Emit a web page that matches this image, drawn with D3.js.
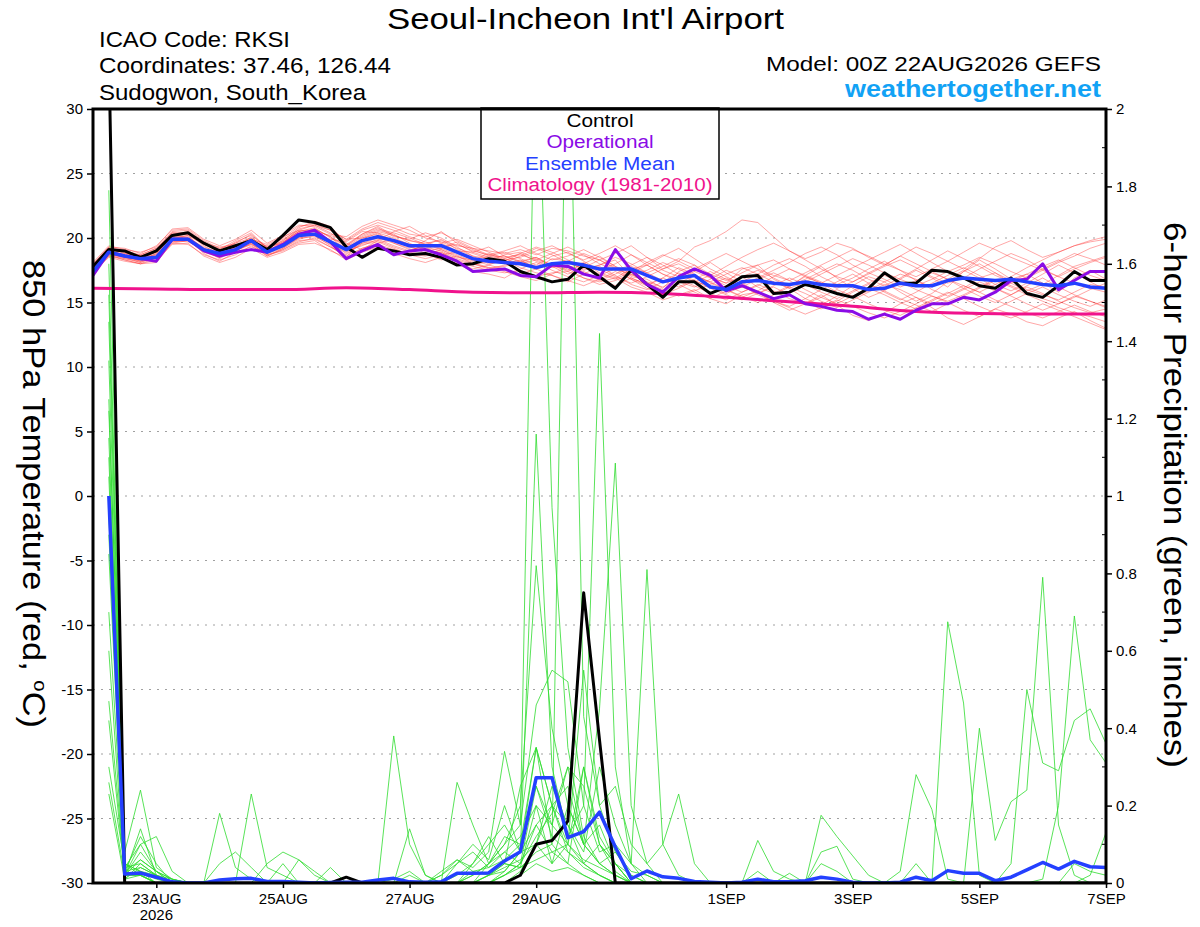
<!DOCTYPE html>
<html>
<head>
<meta charset="utf-8">
<title>Seoul-Incheon Int'l Airport - GEFS plume</title>
<script src="https://d3js.org/d3.v7.min.js"></script>
<style>
  body { margin: 0; background: #fff; }
  svg { display: block; font-family: "Liberation Sans", Arial, Helvetica, sans-serif; }
</style>
</head>
<body>
<svg id="chart" width="1200" height="927"></svg>
<script>
  // ---- data (read off the GEFS plume) ----
  // 850 hPa temperature every 6 h from 00Z 22AUG2026 (65 steps)
  const controlTemp = [17.8,19.1,19.0,18.5,19.0,20.2,20.4,19.6,19.0,19.4,19.8,19.1,20.2,21.4,21.2,20.8,19.3,18.5,19.2,19.0,18.7,18.8,18.5,17.9,18.0,18.4,18.2,17.4,17.0,16.6,16.8,17.9,17.0,16.1,17.5,16.4,15.4,16.6,16.6,15.7,16.2,17.0,17.1,15.7,15.8,16.4,16.1,15.7,15.4,16.1,17.3,16.5,16.5,17.5,17.4,16.9,16.3,16.1,16.9,15.7,15.4,16.3,17.4,16.7,16.7];
  const operTemp = [17.1,18.9,18.6,18.4,18.2,19.9,19.9,19.0,18.6,18.9,19.1,18.9,19.5,20.3,20.6,19.7,18.4,19.0,19.5,18.7,19.0,19.1,18.7,18.2,17.4,17.5,17.6,17.1,17.0,17.9,17.8,17.2,16.9,19.1,17.5,16.4,15.8,17.0,17.6,17.1,15.9,16.3,15.8,15.3,15.6,14.9,14.7,14.4,14.3,13.7,14.1,13.7,14.4,14.9,14.9,15.4,15.2,15.8,16.7,16.8,18.0,16.0,16.7,17.4,17.4];
  const meanTemp = [17.4,18.9,18.6,18.4,18.5,19.9,19.9,19.1,18.8,19.1,19.8,18.9,19.4,20.2,20.3,19.7,19.1,19.8,20.1,19.8,19.4,19.4,19.4,18.9,18.4,18.2,18.1,18.0,17.7,18.0,18.1,17.9,17.6,17.6,17.6,17.1,16.6,16.9,17.1,16.2,16.0,16.6,16.7,16.5,16.4,16.6,16.4,16.3,16.3,16.0,16.1,16.5,16.3,16.3,16.7,16.9,16.8,16.7,16.8,16.6,16.4,16.3,16.5,16.2,16.1];
  // climatology, one value per day (00Z)
  const climTemp = [16.1,16.05,16.0,16.0,16.15,16.0,15.8,15.75,15.8,15.7,15.4,15.05,14.7,14.3,14.15,14.1,14.1];

  const tempMembers = [
    [17.6,19.0,18.7,18.2,18.8,20.0,20.1,19.2,18.6,19.3, 20.1,19.0,19.6,20.5,20.8,20.0,19.4,20.3,20.9,20.2, 19.8,19.5,19.9,19.1,18.6,18.4,18.0,18.3,17.6,18.4, 18.2,17.5,17.9,18.3,17.0,16.8,16.1,17.4,17.9,16.9, 16.5,17.6,17.9,16.8,16.2,17.1,17.8,16.9,16.1,15.4, 15.9,16.8,17.5,16.9,16.2,17.4,18.3,17.6,16.8,17.2, 16.5,15.8,16.9,17.5,16.8],
    [17.9,19.3,19.2,18.8,19.4,20.6,20.7,19.8,19.2,19.6, 20.0,19.3,20.0,20.9,21.1,20.6,19.9,20.7,21.2,20.8, 20.3,20.1,20.4,19.8,19.2,19.0,18.8,19.1,18.7,19.2, 19.0,18.6,18.3,18.8,19.4,18.5,17.6,18.2,19.3,19.8, 20.5,21.4,21.2,20.1,19.0,18.4,18.9,19.6,19.2,18.5, 17.9,18.6,19.3,18.8,18.2,17.6,18.4,19.3,19.8,19.1, 18.5,18.9,19.4,19.7,19.9],
    [17.2,18.6,18.3,18.0,18.1,19.6,19.5,18.7,18.3,18.7, 19.4,18.6,19.1,19.8,19.9,19.3,18.6,19.2,19.5,19.1, 18.8,18.6,18.9,18.2,17.8,17.5,17.3,17.5,17.0,17.3, 17.4,16.9,16.6,16.9,16.2,15.8,15.2,15.6,16.0,15.3, 14.9,15.6,15.8,15.0,14.4,14.9,15.6,14.8,14.0,13.6, 14.2,14.9,15.4,14.6,13.8,13.3,13.9,14.5,14.1,13.5, 13.2,13.8,14.3,13.6,13.0],
    [18.0,19.2,18.9,18.6,19.1,20.3,20.5,19.5,19.1,19.8, 20.4,19.2,19.8,20.8,21.3,20.9,19.6,19.1,19.8,20.5, 20.9,20.2,19.6,19.0,18.9,19.3,18.6,18.1,18.5,17.9, 17.4,18.0,18.6,17.8,16.9,16.4,16.9,17.7,17.2,16.5, 16.0,15.4,15.9,16.6,16.1,15.3,14.8,15.5,16.3,17.0, 16.6,15.8,15.1,15.7,16.6,17.4,18.0,17.3,16.5,15.9, 16.4,17.1,17.8,18.2,18.6],
    [17.5,18.7,18.5,18.3,18.4,19.8,20.0,19.0,18.9,19.0, 19.6,18.8,19.2,20.0,20.1,19.5,18.9,19.6,20.0,19.6, 19.2,19.8,20.5,19.6,18.9,18.5,18.6,18.2,17.8,18.0, 17.7,18.1,17.3,16.9,17.6,17.9,17.2,16.6,16.2,16.8, 17.5,17.0,16.2,15.7,16.3,17.0,16.5,15.8,15.4,15.9, 16.6,17.2,16.8,16.0,15.5,16.1,16.9,17.3,16.7,16.0, 15.6,15.2,15.8,16.4,16.2],
    [17.7,19.1,18.9,18.4,18.9,20.1,20.3,19.4,18.7,19.2, 19.9,19.1,19.5,20.4,20.6,19.8,19.3,20.1,20.6,20.3, 19.6,19.0,19.2,18.7,18.2,18.6,18.9,18.4,17.9,18.6, 18.9,18.2,17.5,18.0,18.7,17.9,17.2,16.8,17.4,18.1, 17.3,16.6,17.2,17.9,18.4,17.8,17.0,16.4,16.9,17.6, 18.2,17.5,16.7,16.2,16.8,17.5,16.9,16.1,15.6,16.3, 16.9,16.2,15.6,15.1,14.7],
    [17.3,18.8,18.4,18.1,18.6,19.7,19.8,18.9,18.5,19.4, 20.0,18.7,19.0,19.6,19.8,19.0,18.5,19.9,20.4,19.6, 19.1,19.3,19.0,18.4,18.0,17.6,17.9,18.2,18.5,17.8, 17.2,17.7,18.3,17.6,16.8,16.3,16.9,16.4,15.8,15.3, 15.9,16.5,15.8,15.1,14.7,15.3,16.0,16.6,17.2,16.5, 15.8,15.2,15.8,16.5,17.1,17.7,17.1,16.4,15.9,16.5, 17.2,17.9,17.3,16.6,16.0],
    [17.8,18.9,18.8,18.7,19.2,20.4,20.4,19.6,19.3,19.5, 19.7,19.4,19.9,20.6,20.5,20.2,19.8,20.6,21.0,20.6, 20.1,19.7,19.3,19.5,19.0,18.7,19.0,19.4,18.8,18.3, 18.6,19.1,18.5,17.8,17.3,17.9,18.6,19.2,18.4,17.6, 17.0,16.4,16.9,17.5,18.1,18.8,19.3,18.7,17.9,17.3, 16.8,16.2,16.7,17.3,16.8,16.1,15.5,15.0,15.6,16.2, 15.7,15.1,14.6,14.2,14.5],
    [17.4,18.5,18.2,18.0,18.3,19.5,19.6,18.6,18.1,18.5, 19.2,18.5,18.9,19.5,19.6,19.1,18.3,18.9,19.3,18.8, 18.4,18.1,18.5,18.0,17.4,17.2,16.9,17.6,18.1,17.5, 17.0,16.6,17.1,17.6,17.2,16.5,16.0,15.5,15.9,16.4, 16.9,16.3,15.6,15.1,14.6,14.1,14.6,15.2,14.7,14.2, 13.8,14.3,14.9,15.5,15.0,14.4,13.9,14.5,15.1,15.7, 16.2,15.6,15.1,14.7,15.2],
    [18.1,19.4,19.1,18.9,19.3,20.7,20.8,19.9,19.4,19.9, 20.6,19.6,20.2,21.0,20.9,20.3,20.1,20.9,21.4,21.0, 20.6,20.0,19.7,19.2,18.8,18.4,18.1,18.6,19.2,18.7, 18.1,17.6,17.9,18.5,18.0,17.3,17.8,18.4,17.9,17.2, 16.7,17.3,17.9,18.3,17.6,17.0,16.5,17.1,17.7,18.3, 18.9,19.5,18.8,18.1,17.4,17.9,18.5,18.0,17.4,16.9, 17.5,18.1,18.6,19.2,19.6],
    [17.6,18.8,18.6,18.5,18.7,19.9,20.2,19.1,18.4,19.1, 19.5,19.0,19.7,20.3,20.7,20.1,19.0,19.4,19.9,19.4, 19.0,19.5,19.1,18.5,18.3,18.8,18.3,17.7,17.3,17.1, 16.6,17.2,17.8,17.1,16.4,16.0,16.6,17.3,16.7,16.1, 15.6,15.2,15.7,16.2,15.6,15.0,14.5,15.1,15.8,16.4, 15.9,15.3,14.8,14.3,14.9,15.5,16.1,16.7,16.2,15.6, 15.1,14.6,14.2,13.9,13.5],
    [17.9,19.0,19.1,18.6,19.0,20.2,20.0,19.3,18.9,19.7, 20.2,19.3,19.6,20.7,21.0,20.4,19.5,20.3,20.8,20.1, 19.9,20.4,20.0,19.3,18.6,18.0,18.2,18.8,19.3,18.9, 18.3,17.8,17.2,16.8,17.4,18.1,18.7,18.2,17.6,17.0, 16.5,17.0,17.5,16.9,16.3,16.8,17.4,18.0,17.5,16.8, 16.3,16.9,17.6,18.3,19.0,18.4,17.8,17.1,16.6,17.2, 17.8,18.3,17.7,17.1,16.7],
    [17.5,18.6,18.4,18.2,18.5,19.7,19.9,18.8,18.2,18.9, 19.3,18.9,19.3,20.1,20.4,19.6,18.8,19.5,19.7,19.2, 18.7,18.4,18.7,18.9,18.3,17.9,17.6,17.2,17.6,18.0, 17.6,16.9,16.4,16.7,17.2,16.6,16.2,16.8,16.3,15.7, 15.2,15.8,16.4,15.9,15.3,14.9,15.4,16.0,15.5,14.9, 14.4,14.0,14.6,15.2,15.8,15.3,14.7,14.2,13.8,14.3, 14.9,14.4,13.9,13.4,12.9],
    [17.7,19.2,18.8,18.4,19.1,20.5,20.6,19.7,18.8,19.3, 19.8,19.2,19.8,20.5,20.2,19.9,19.7,20.5,20.4,20.0, 19.5,19.1,19.6,19.9,19.4,18.9,18.4,18.0,18.3,18.8, 19.3,18.7,18.0,17.5,17.9,18.5,17.9,17.2,16.6,17.1, 17.8,18.5,19.1,19.6,19.0,18.3,17.6,17.0,16.6,17.2, 17.8,18.3,17.7,17.0,16.5,16.9,17.6,18.2,18.8,18.3, 17.6,17.0,16.5,16.1,15.8],
    [17.4,18.7,18.6,18.2,18.7,19.8,19.7,19.1,18.7,19.0, 19.6,18.6,19.2,19.9,20.2,19.4,18.4,19.2,19.6,19.9, 19.4,18.8,18.3,18.6,18.1,17.7,17.4,17.0,16.7,17.2, 17.8,17.4,16.8,16.3,16.9,16.4,15.9,16.5,17.1,16.6, 16.0,15.5,15.0,15.6,16.2,15.7,15.1,14.6,15.2,15.8, 16.4,16.0,15.4,14.9,15.4,16.0,16.6,16.1,15.5,14.9, 14.4,14.9,15.5,15.1,14.6],
    [17.8,19.0,18.7,18.6,18.9,20.0,20.2,19.5,19.2,19.4, 19.9,19.5,20.1,20.6,21.0,20.6,19.9,20.0,20.5,20.2, 19.8,19.6,19.8,19.4,19.2,18.7,18.5,18.7,18.3,17.8, 18.2,18.8,18.3,17.7,17.1,17.5,18.1,17.6,17.0,16.6, 17.2,17.7,17.2,16.6,16.1,16.6,17.2,17.8,18.4,17.9, 17.3,16.8,16.3,16.8,17.4,16.9,16.4,15.9,16.5,17.0, 17.6,18.2,18.8,18.4,17.9],
    [17.6,18.9,18.5,18.3,18.8,19.9,20.0,19.2,18.5,19.1, 19.7,18.9,19.4,20.2,20.5,19.7,19.2,20.0,20.3,19.7, 19.3,19.0,18.9,18.3,17.9,18.2,18.7,18.9,18.4,17.9, 17.5,18.0,17.6,17.0,16.5,17.0,17.6,18.0,17.4,16.9, 16.3,15.8,16.3,17.0,17.6,17.1,16.6,16.1,16.6,17.3, 17.9,18.6,18.0,17.4,16.8,16.3,15.8,16.4,17.0,17.7, 18.3,18.9,19.4,19.8,20.1],
    [17.3,18.7,18.3,18.0,18.5,19.6,19.8,19.0,18.6,19.0, 19.5,18.7,19.1,19.7,20.0,19.3,18.7,19.6,19.8,19.3, 18.9,18.7,19.1,18.6,18.0,17.7,17.8,18.1,17.6,17.1, 16.7,16.3,16.8,17.4,16.8,16.1,15.6,16.1,16.7,16.2, 15.7,16.2,16.8,17.3,16.7,16.0,15.4,14.9,15.5,16.1, 15.6,15.0,14.5,15.1,15.7,16.3,15.8,15.2,14.7,14.2, 13.8,14.3,14.8,14.3,13.9],
    [18.0,19.3,19.0,18.7,19.2,20.4,20.3,19.7,19.0,19.6, 20.3,19.2,19.7,20.5,20.7,20.1,19.4,20.2,20.7,20.4, 20.0,19.5,19.2,19.7,19.1,18.6,18.3,18.5,19.0,19.4, 18.8,18.3,18.8,19.4,18.7,18.1,17.5,17.0,17.6,18.2, 18.8,18.2,17.6,17.1,16.7,17.3,17.9,18.5,19.1,18.6, 18.0,17.5,17.0,17.6,18.2,18.9,19.6,19.1,18.5,18.0, 17.5,17.0,17.6,18.1,18.5],
    [17.5,18.8,18.5,18.1,18.6,19.8,19.9,19.0,18.5,19.2, 19.8,18.9,19.3,20.0,20.3,19.6,19.0,19.7,20.2,19.9, 19.5,19.2,18.8,18.1,17.6,17.9,18.4,18.8,18.2,17.7, 17.9,17.3,16.7,17.2,17.8,17.3,16.7,16.2,16.8,17.4, 16.8,16.2,15.7,16.3,16.9,16.4,15.8,15.3,15.9,16.5, 17.1,16.6,16.0,15.5,15.1,15.6,16.2,16.8,16.3,15.8, 15.3,14.9,15.4,16.0,16.5]
  ];

  // 6-hour precipitation (inches), valid 06Z 22AUG .. 00Z 7SEP (64 steps)
  const controlPrecip = [2.15,0,0,0,0,0,0,0, 0,0,0,0,0,0,0,0.015, 0,0,0,0,0,0,0,0, 0,0,0.02,0.1,0.11,0.16,0.75,0.37, 0,0,0,0,0,0,0,0, 0,0,0,0,0,0,0,0, 0,0,0,0,0,0,0,0, 0,0,0,0,0,0,0,0];
  const meanPrecip = [1.0,0.023,0.026,0.015,0.003,0,0,0.008, 0.011,0.012,0.004,0.004,0.002,0,0.001,0.002, 0.002,0.008,0.012,0.003,0.002,0.003,0.025,0.025, 0.026,0.057,0.081,0.272,0.272,0.117,0.133,0.183, 0.093,0.011,0.031,0.016,0.012,0.004,0.002,0, 0.002,0.01,0.003,0.003,0.006,0.015,0.01,0.002, 0,0,0.002,0.015,0.006,0.032,0.025,0.025, 0.006,0.015,0.034,0.053,0.036,0.056,0.042,0.04];
  const precipMembers = [
    [1.79,0.05,0.02,0,0,0,0,0, 0,0,0,0,0,0,0,0, 0,0,0.01,0.03,0,0,0,0.02, 0.05,0.1,0.15,2.3,0.97,0.35,0.12,0.05, 0.02,0,0,0,0,0,0,0, 0,0,0,0,0,0,0,0, 0,0,0,0,0,0,0,0, 0,0,0,0,0,0,0,0],
    [1.52,0.03,0.12,0.05,0,0,0,0, 0,0,0,0,0,0,0,0, 0,0,0,0,0,0.02,0.05,0.1, 0.06,0.2,0.08,0.35,0.1,2.4,0.43,0.2, 0.08,0.02,0,0,0,0,0,0, 0,0,0,0,0,0,0,0, 0,0,0,0,0,0,0,0, 0,0,0,0,0,0,0,0],
    [1.22,0.08,0.24,0.04,0.01,0,0,0.18, 0.04,0.01,0,0,0,0,0,0, 0,0,0.38,0.1,0.02,0,0,0, 0,0.03,0.08,1.16,0.3,0.12,0.2,1.42, 0.3,0.05,0,0,0,0,0,0, 0,0,0,0,0,0,0,0, 0,0,0,0,0,0,0,0, 0,0,0,0,0,0,0,0],
    [1.35,0.04,0.1,0.12,0.03,0,0,0, 0,0.23,0.04,0.02,0,0,0,0, 0,0,0,0,0,0,0.26,0.15, 0.05,0.1,0.2,0.82,0.4,0.2,0.1,0.45, 1.085,0.2,0.05,0,0,0,0,0, 0,0,0,0,0,0,0,0, 0,0,0,0,0,0,0,0, 0,0,0,0,0,0,0,0],
    [1.1,0.02,0.14,0.02,0,0,0,0, 0,0,0.05,0.08,0.06,0.03,0,0, 0,0,0,0,0,0.02,0.06,0.04, 0.08,0.34,0.15,0.46,0.55,0.52,0.2,0.08, 0.1,0.05,0.81,0.1,0.02,0,0,0, 0,0,0,0,0,0,0,0, 0,0,0,0,0,0,0,0, 0,0,0,0,0,0,0,0],
    [0.95,0.01,0.05,0.02,0,0,0,0.05, 0.08,0.04,0,0,0,0,0.04,0, 0,0,0,0.14,0.02,0,0,0.05, 0.12,0.05,0.25,0.35,0.2,0.1,0.55,0.2, 0.25,0.1,0.05,0.1,0.23,0.05,0,0, 0,0,0,0,0,0,0,0, 0,0,0,0,0,0,0,0, 0,0,0,0,0,0,0,0],
    [1.45,0.03,0.06,0.03,0.01,0,0,0, 0,0,0,0,0.06,0.02,0,0, 0,0,0,0,0,0,0,0.03, 0.04,0.08,0.05,0.25,0.15,0.3,0.1,0.05, 0.02,0,0,0,0,0,0,0, 0,0.11,0.03,0.01,0,0.175,0.12,0.07, 0.02,0,0,0,0,0,0,0, 0,0,0,0,0,0,0,0],
    [0.85,0.02,0.03,0,0,0,0,0, 0,0,0,0,0,0,0,0, 0,0,0,0,0,0,0,0, 0.02,0.05,0.04,0.2,0.15,0.1,0.3,0.12, 0.05,0.02,0,0,0,0,0,0, 0,0,0,0,0,0,0,0, 0,0,0.03,0.28,0.19,0.01,0,0, 0,0,0,0,0,0,0,0],
    [1.6,0.05,0.03,0.01,0,0,0,0, 0,0,0,0,0,0,0,0, 0,0,0,0,0,0,0,0, 0,0.02,0.05,0.15,0.08,0.05,0.02,0, 0,0,0,0,0,0,0,0, 0,0,0,0,0,0,0,0, 0,0,0,0,0,0.675,0.465,0.02, 0,0,0,0,0,0,0,0],
    [0.7,0.02,0.02,0,0,0,0,0, 0,0,0,0,0,0,0,0, 0,0,0,0,0,0,0.02,0.05, 0.1,0.15,0.08,0.1,0.25,0.15,0.08,0.3, 0.15,0.05,0.02,0,0,0,0,0, 0,0,0,0,0,0,0,0, 0,0,0,0,0,0,0,0.4, 0.11,0.21,0.24,0.79,0.15,0.02,0,0],
    [0.6,0.01,0.04,0.02,0,0,0,0, 0,0,0,0.05,0,0,0,0, 0,0,0,0,0,0,0,0, 0,0,0.03,0.1,0.05,0.2,0.1,0.15, 0.05,0,0,0,0,0,0,0, 0,0,0,0,0,0,0,0, 0,0,0,0,0,0,0,0, 0,0.05,0.5,0.31,0.29,0.42,0.45,0.36],
    [1.25,0.02,0.08,0.03,0,0,0,0, 0,0,0,0,0,0,0,0, 0,0,0,0,0,0,0,0.02, 0.05,0.08,0.12,0.2,0.05,0.1,0.05,0.02, 0,0,0,0,0,0,0,0, 0,0,0,0,0,0,0,0, 0,0,0,0,0,0,0,0, 0,0,0,0.01,0.2,0.69,0.37,0.31],
    [0.47,0.03,0.02,0,0,0,0,0, 0,0,0,0,0,0,0,0, 0,0,0,0,0,0,0,0, 0.02,0.04,0.06,0.1,0.2,0.08,0.05,0.02, 0,0,0,0,0,0,0,0, 0,0,0,0,0,0.08,0.095,0.01, 0,0,0,0,0,0,0,0, 0,0,0,0,0,0,0.02,0.13],
    [0.42,0.02,0.1,0.03,0,0,0,0, 0,0,0,0,0,0,0,0, 0,0,0,0.02,0,0,0,0, 0.02,0.03,0.08,0.15,0.2,0.25,0.1,0.05, 0.08,0.03,0.02,0,0,0,0,0, 0,0.03,0,0.025,0,0.05,0.03,0, 0,0,0,0.05,0,0,0,0, 0,0,0,0,0,0.05,0.03,0.02],
    [1.05,0.04,0.05,0.02,0,0,0,0, 0,0,0,0,0,0,0,0, 0,0,0,0,0,0,0.05,0.08, 0.04,0.06,0.1,0.35,0.2,0.15,0.05,0.1, 0.05,0,0,0,0,0,0,0, 0,0,0,0,0,0,0,0, 0,0,0,0,0,0,0,0, 0,0,0,0,0,0,0,0],
    [0.3,0.05,0.03,0.02,0,0,0,0, 0,0,0,0,0,0,0,0, 0,0,0,0,0,0,0,0, 0,0.02,0.04,0.08,0.1,0.05,0.3,0.1, 0.03,0,0,0,0,0,0,0, 0,0,0,0,0,0,0,0, 0,0,0,0,0,0,0,0, 0,0,0,0,0,0,0,0],
    [0.26,0.02,0.02,0,0,0,0,0, 0,0,0,0,0,0,0,0, 0,0,0,0,0,0.03,0.06,0.03, 0.02,0.05,0.04,0.06,0.08,0.1,0.06,0.04, 0.02,0,0,0,0,0,0,0, 0,0,0,0,0,0,0,0, 0,0,0,0,0,0,0,0, 0,0,0,0,0,0,0,0],
    [0.23,0.01,0.02,0,0,0,0,0, 0,0,0,0,0,0,0,0, 0,0,0,0,0,0,0,0, 0,0,0.02,0.05,0.03,0.04,0.02,0, 0,0,0,0,0,0,0,0, 0,0,0,0,0,0,0,0, 0,0,0,0,0,0,0,0, 0,0,0,0,0,0,0,0],
    [0.9,0.03,0.04,0.02,0.01,0,0,0, 0,0,0,0,0,0,0,0, 0,0,0,0,0,0,0,0, 0,0.02,0.05,0.12,0.18,0.3,0.25,0.1, 0.05,0,0,0,0,0,0,0, 0,0,0,0,0,0,0,0, 0,0,0,0,0,0,0,0, 0,0,0,0,0,0,0,0],
    [1.15,0.02,0.06,0.03,0.01,0,0,0, 0,0,0,0,0,0,0,0, 0,0,0,0,0,0,0,0, 0.05,0.12,0.1,0.25,0.12,0.08,0.04,0.02, 0,0,0,0,0,0,0,0, 0,0,0,0,0,0,0,0, 0,0,0,0,0,0,0,0, 0,0,0,0,0,0,0,0]
  ];

  // axis ticks
  const tempTicks = [-30,-25,-20,-15,-10,-5,0,5,10,15,20,25,30];
  const precipTicks = [0,0.2,0.4,0.6,0.8,1,1.2,1.4,1.6,1.8,2];
  const precipMinor = [0.1,0.3,0.5,0.7,0.9,1.1,1.3,1.5,1.7,1.9];
  const dateTicks = ['2026-08-23','2026-08-25','2026-08-27','2026-08-29','2026-09-01','2026-09-03','2026-09-05','2026-09-07'];
  const legendItems = [
    { label: 'Control', color: '#000000', len: 67 },
    { label: 'Operational', color: '#8a0be6', len: 107 },
    { label: 'Ensemble Mean', color: '#2440ff', len: 150 },
    { label: 'Climatology (1981-2010)', color: '#f0128c', len: 225 }
  ];

  // ---- layout ----
  const plotL = 93, plotR = 1106, plotT = 109, plotB = 883;
  const svg = d3.select('#chart');

  const runStart = Date.UTC(2026, 7, 22, 0);
  const sixHours = 6 * 3600 * 1000;
  const tempTime = i => new Date(runStart + i * sixHours);
  const precipTime = k => new Date(runStart + (k + 1) * sixHours);
  const climTime = d => new Date(runStart + d * 4 * sixHours);

  const x = d3.scaleUtc()
    .domain([new Date(runStart), new Date(Date.UTC(2026, 8, 7, 0))])
    .range([plotL, plotR]);
  const yT = d3.scaleLinear().domain([-30, 30]).range([plotB, plotT]);
  const yP = d3.scaleLinear().domain([0, 2]).range([plotB, plotT]);

  svg.append('defs').append('clipPath').attr('id', 'plotclip')
    .append('rect')
    .attr('x', plotL).attr('y', plotT)
    .attr('width', plotR - plotL).attr('height', plotB - plotT);

  // dotted grid
  svg.append('g').selectAll('line')
    .data(tempTicks.filter(t => t > -30 && t < 30))
    .enter().append('line')
    .attr('x1', plotL).attr('x2', plotR)
    .attr('y1', d => yT(d)).attr('y2', d => yT(d))
    .attr('stroke', '#a0a0a0')
    .attr('stroke-width', 1)
    .attr('stroke-dasharray', '2,6');

  const plot = svg.append('g').attr('clip-path', 'url(#plotclip)');

  const lineT = d3.line().x((v, i) => x(tempTime(i))).y(v => yT(v));
  const lineP = d3.line().x((v, k) => x(precipTime(k))).y(v => yP(v));
  const lineC = d3.line().x((v, d) => x(climTime(d))).y(v => yT(v)).curve(d3.curveMonotoneX);

  plot.append('g').selectAll('path')
    .data(tempMembers)
    .enter().append('path')
    .attr('d', lineT)
    .attr('fill', 'none')
    .attr('stroke', '#ff3b3b')
    .attr('stroke-opacity', 0.75)
    .attr('stroke-width', 0.6);

  plot.append('g').selectAll('path')
    .data(precipMembers)
    .enter().append('path')
    .attr('d', lineP)
    .attr('fill', 'none')
    .attr('stroke', '#2fdc2f')
    .attr('stroke-width', 0.8);

  plot.append('path').attr('d', lineC(climTemp))
    .attr('fill', 'none').attr('stroke', '#f0128c').attr('stroke-width', 3);
  plot.append('path').attr('d', lineT(controlTemp))
    .attr('fill', 'none').attr('stroke', '#000').attr('stroke-width', 3)
    .attr('stroke-linejoin', 'round');
  plot.append('path').attr('d', lineT(operTemp))
    .attr('fill', 'none').attr('stroke', '#8a0be6').attr('stroke-width', 3)
    .attr('stroke-linejoin', 'round');
  plot.append('path').attr('d', lineT(meanTemp))
    .attr('fill', 'none').attr('stroke', '#2440ff').attr('stroke-width', 3.5)
    .attr('stroke-linejoin', 'round');
  plot.append('path').attr('d', lineP(controlPrecip))
    .attr('fill', 'none').attr('stroke', '#000').attr('stroke-width', 3)
    .attr('stroke-linejoin', 'round');
  plot.append('path').attr('d', lineP(meanPrecip))
    .attr('fill', 'none').attr('stroke', '#2440ff').attr('stroke-width', 3.5)
    .attr('stroke-linejoin', 'round');

  // legend box
  const legend = svg.append('g');
  legend.append('rect')
    .attr('x', 481).attr('y', 108).attr('width', 238).attr('height', 91)
    .attr('fill', '#fff').attr('stroke', '#000').attr('stroke-width', 1.5);
  legend.selectAll('text')
    .data(legendItems)
    .enter().append('text')
    .attr('x', 600)
    .attr('y', (d, i) => 127 + i * 21.4)
    .attr('text-anchor', 'middle')
    .attr('font-size', 18)
    .attr('fill', d => d.color)
    .attr('textLength', d => d.len)
    .attr('lengthAdjust', 'spacingAndGlyphs')
    .text(d => d.label);

  // frame
  svg.append('rect')
    .attr('x', plotL).attr('y', plotT)
    .attr('width', plotR - plotL).attr('height', plotB - plotT)
    .attr('fill', 'none').attr('stroke', '#000').attr('stroke-width', 3);

  // axes
  const axL = svg.append('g').attr('transform', 'translate(' + (plotL - 1) + ',0)')
    .call(d3.axisLeft(yT).tickValues(tempTicks).tickSize(5).tickPadding(4).tickFormat(d => String(d)));
  const axR = svg.append('g').attr('transform', 'translate(' + (plotR + 1) + ',0)')
    .call(d3.axisRight(yP).tickValues(precipTicks).tickSize(5).tickPadding(4).tickFormat(d => String(+d.toFixed(1))));
  const fmt = d3.utcFormat('%-d%b');
  const axB = svg.append('g').attr('transform', 'translate(0,' + (plotB + 1) + ')')
    .call(d3.axisBottom(x).tickValues(dateTicks.map(s => new Date(s + 'T00:00:00Z')))
      .tickSize(4).tickPadding(5).tickFormat(d => fmt(d).toUpperCase()));
  [axL, axR, axB].forEach(a => {
    a.select('.domain').remove();
    a.attr('font-size', 15).attr('font-family', null);
    a.selectAll('line').attr('stroke-width', 1.5);
  });

  svg.append('g').selectAll('line')
    .data(precipMinor)
    .enter().append('line')
    .attr('x1', plotR - 4).attr('x2', plotR)
    .attr('y1', d => yP(d)).attr('y2', d => yP(d))
    .attr('stroke', '#000').attr('stroke-width', 1);

  svg.append('text')
    .attr('x', x(new Date('2026-08-23T00:00:00Z'))).attr('y', 920)
    .attr('text-anchor', 'middle').attr('font-size', 15)
    .text('2026');

  // axis titles (both read top to bottom), stretched a little like the original font
  function axisTitle(tx, ty, len) {
    return svg.append('text')
      .attr('text-anchor', 'middle')
      .attr('font-size', 30.5)
      .attr('data-len', len)
      .attr('data-tx', tx)
      .attr('data-ty', ty);
  }
  const yTitle = axisTitle(23, 494, 468);
  yTitle.append('tspan').text('850 hPa Temperature (red, ');
  yTitle.append('tspan').attr('dy', -11).attr('font-size', 18).text('o');
  yTitle.append('tspan').attr('dy', 11).text('C)');
  const y2Title = axisTitle(1164, 495, 546);
  y2Title.text('6-hour Precipitation (green, inches)');
  [yTitle, y2Title].forEach(t => {
    const k = +t.attr('data-len') / t.node().getComputedTextLength();
    t.attr('transform', 'translate(' + t.attr('data-tx') + ',' + t.attr('data-ty') + ') rotate(90) scale(' + k + ',1)');
  });

  // header
  const header = [
    { t: "Seoul-Incheon Int'l Airport", x: 387, y: 29, size: 30, len: 397, color: '#000', weight: 'normal' },
    { t: 'ICAO Code: RKSI', x: 99, y: 47, size: 21.5, len: 191, color: '#000', weight: 'normal' },
    { t: 'Coordinates: 37.46, 126.44', x: 99, y: 73, size: 21.5, len: 292, color: '#000', weight: 'normal' },
    { t: 'Sudogwon, South_Korea', x: 99, y: 99.5, size: 21.5, len: 267, color: '#000', weight: 'normal' },
    { t: 'Model: 00Z 22AUG2026 GEFS', x: 766, y: 71, size: 21, len: 335, color: '#000', weight: 'normal' },
    { t: 'weathertogether.net', x: 845, y: 97, size: 23.5, len: 256, color: '#12a2f5', weight: 'bold' }
  ];
  svg.append('g').selectAll('text')
    .data(header)
    .enter().append('text')
    .attr('x', d => d.x).attr('y', d => d.y)
    .attr('font-size', d => d.size)
    .attr('font-weight', d => d.weight)
    .attr('fill', d => d.color)
    .attr('textLength', d => d.len)
    .attr('lengthAdjust', 'spacingAndGlyphs')
    .text(d => d.t);
</script>
</body>
</html>
